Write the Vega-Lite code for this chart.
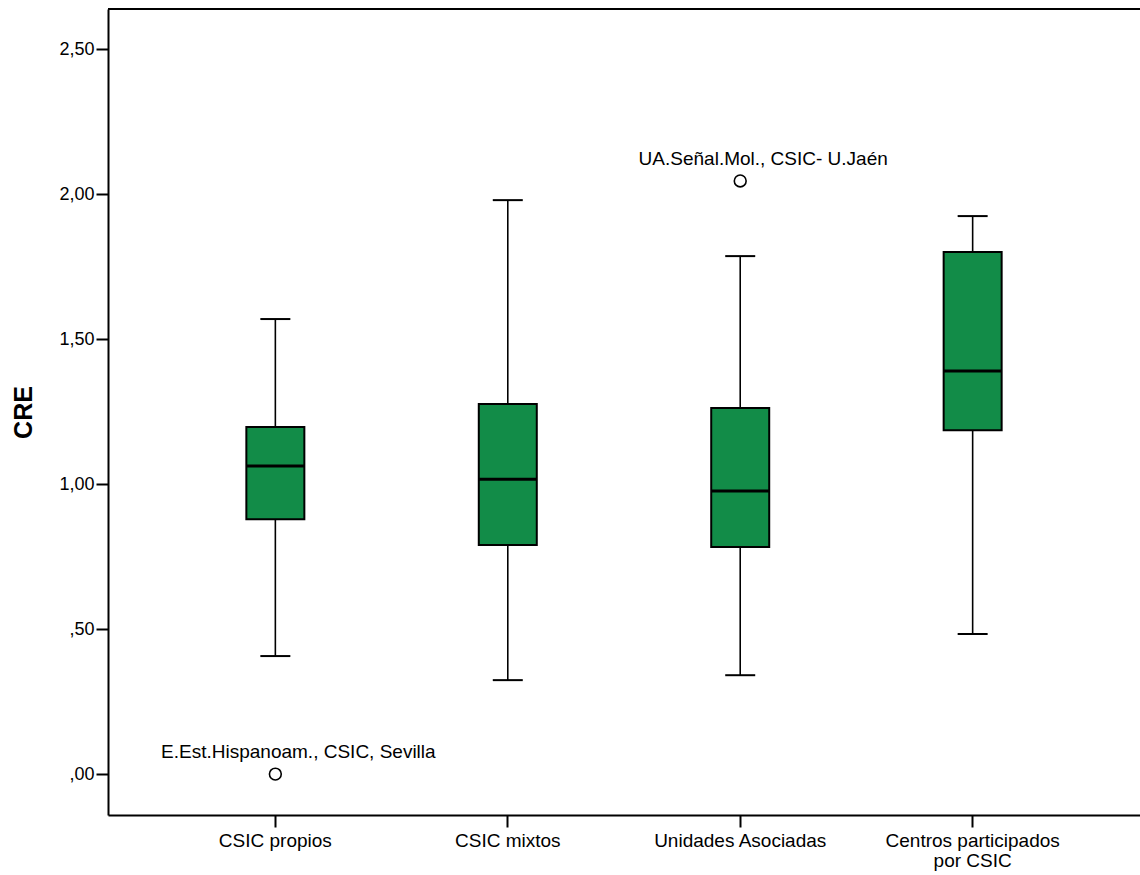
{
  "$schema": "https://vega.github.io/schema/vega-lite/v6.json",
  "width": 1032,
  "height": 806,
  "autosize": {"type": "none"},
  "padding": {"left": 108, "top": 9, "right": 0, "bottom": 60},
  "background": "white",
  "config": {
    "view": {"stroke": null},
    "font": "Liberation Sans",
    "axis": {"labelFont": "Liberation Sans", "titleFont": "Liberation Sans", "labelColor": "black", "titleColor": "black", "domainColor": "black", "tickColor": "black", "domainWidth": 2, "tickWidth": 2, "grid": false}
  },
  "datasets": {
    "boxes": [
      {"group": "CSIC propios", "lower": 0.407, "q1": 0.879, "median": 1.062, "q3": 1.197, "upper": 1.569},
      {"group": "CSIC mixtos", "lower": 0.324, "q1": 0.790, "median": 1.017, "q3": 1.276, "upper": 1.979},
      {"group": "Unidades Asociadas", "lower": 0.341, "q1": 0.783, "median": 0.976, "q3": 1.262, "upper": 1.786},
      {"group": "Centros participados por CSIC", "lower": 0.483, "q1": 1.186, "median": 1.390, "q3": 1.800, "upper": 1.924}
    ],
    "outliers": [
      {"group": "CSIC propios", "value": 0.0, "name": "E.Est.Hispanoam., CSIC, Sevilla"},
      {"group": "Unidades Asociadas", "value": 2.045, "name": "UA.Señal.Mol., CSIC- U.Jaén"}
    ]
  },
  "layer": [
    {
      "data": {"name": "boxes"},
      "mark": {"type": "rule", "color": "black", "strokeWidth": 1.6},
      "encoding": {
        "x": {
          "field": "group", "type": "nominal", "sort": ["CSIC propios", "CSIC mixtos", "Unidades Asociadas", "Centros participados por CSIC"],
          "scale": {"type": "band", "paddingInner": 0, "paddingOuter": 0.22},
          "axis": {
            "title": null, "labelAngle": 0, "labelFontSize": 19, "tickSize": 12, "labelPadding": 4,
            "labelLineHeight": 20,
            "labelExpr": "datum.value == 'Centros participados por CSIC' ? ['Centros participados', 'por CSIC'] : datum.label"
          }
        },
        "y": {"field": "lower", "type": "quantitative", "scale": {"domain": [-0.141, 2.638], "nice": false, "zero": false},
          "axis": {"title": "CRE", "titleFontSize": 25, "titleFontWeight": "bold", "titleX": -72, "values": [0, 0.5, 1, 1.5, 2, 2.5], "labelFontSize": 18, "tickSize": 12, "labelPadding": 2,
            "labelExpr": "replace(replace(format(datum.value, '.2f'), '0.', ','), '.', ',')"}},
        "y2": {"field": "q1"}
      }
    },
    {
      "data": {"name": "boxes"},
      "mark": {"type": "rule", "color": "black", "strokeWidth": 1.6},
      "encoding": {"x": {"field": "group", "type": "nominal", "sort": ["CSIC propios", "CSIC mixtos", "Unidades Asociadas", "Centros participados por CSIC"]}, "y": {"field": "q3", "type": "quantitative"}, "y2": {"field": "upper"}}
    },
    {
      "data": {"name": "boxes"},
      "mark": {"type": "tick", "color": "black", "size": 30, "thickness": 2, "opacity": 1},
      "encoding": {"x": {"field": "group", "type": "nominal", "sort": ["CSIC propios", "CSIC mixtos", "Unidades Asociadas", "Centros participados por CSIC"]}, "y": {"field": "lower", "type": "quantitative"}}
    },
    {
      "data": {"name": "boxes"},
      "mark": {"type": "tick", "color": "black", "size": 30, "thickness": 2, "opacity": 1},
      "encoding": {"x": {"field": "group", "type": "nominal", "sort": ["CSIC propios", "CSIC mixtos", "Unidades Asociadas", "Centros participados por CSIC"]}, "y": {"field": "upper", "type": "quantitative"}}
    },
    {
      "data": {"name": "boxes"},
      "mark": {"type": "bar", "fill": "#128C48", "stroke": "black", "strokeWidth": 2, "size": 58},
      "encoding": {"x": {"field": "group", "type": "nominal", "sort": ["CSIC propios", "CSIC mixtos", "Unidades Asociadas", "Centros participados por CSIC"]}, "y": {"field": "q1", "type": "quantitative"}, "y2": {"field": "q3"}}
    },
    {
      "data": {"name": "boxes"},
      "mark": {"type": "tick", "color": "black", "size": 58, "thickness": 3, "opacity": 1},
      "encoding": {"x": {"field": "group", "type": "nominal", "sort": ["CSIC propios", "CSIC mixtos", "Unidades Asociadas", "Centros participados por CSIC"]}, "y": {"field": "median", "type": "quantitative"}}
    },
    {
      "data": {"name": "outliers"},
      "mark": {"type": "point", "shape": "circle", "filled": false, "stroke": "black", "strokeWidth": 1.6, "size": 140, "opacity": 1},
      "encoding": {"x": {"field": "group", "type": "nominal", "sort": ["CSIC propios", "CSIC mixtos", "Unidades Asociadas", "Centros participados por CSIC"]}, "y": {"field": "value", "type": "quantitative"}}
    },
    {
      "data": {"name": "outliers"},
      "mark": {"type": "text", "fontSize": 19, "color": "black", "dx": 23, "dy": -22, "baseline": "middle", "align": "center"},
      "encoding": {"x": {"field": "group", "type": "nominal", "sort": ["CSIC propios", "CSIC mixtos", "Unidades Asociadas", "Centros participados por CSIC"]}, "y": {"field": "value", "type": "quantitative"}, "text": {"field": "name"}}
    },
    {
      "data": {"values": [{"top": 2.638}]},
      "mark": {"type": "rule", "color": "black", "strokeWidth": 2},
      "encoding": {"y": {"field": "top", "type": "quantitative"}}
    }
  ]
}
